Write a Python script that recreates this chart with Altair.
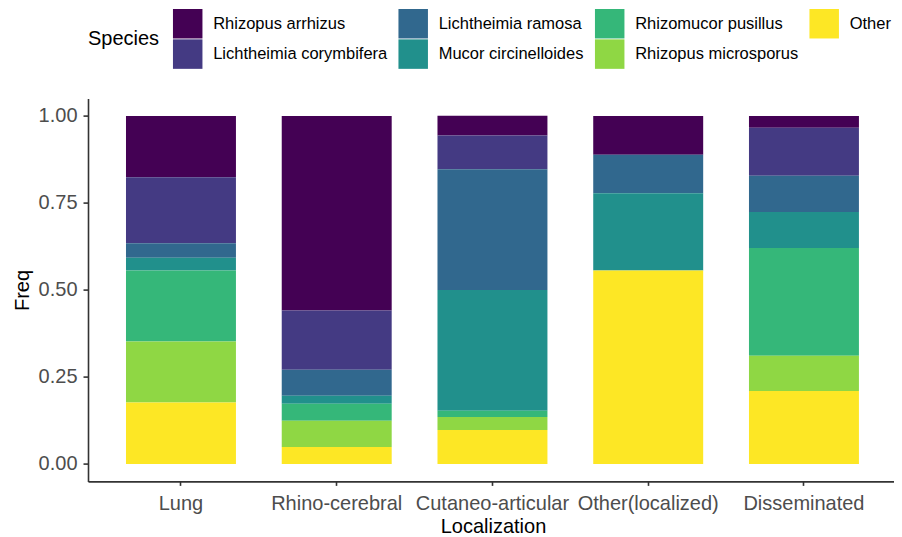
import altair as alt
import pandas as pd

localizations = ["Lung", "Rhino-cerebral", "Cutaneo-articular", "Other(localized)", "Disseminated"]

species = [
    "Rhizopus arrhizus",
    "Lichtheimia corymbifera",
    "Lichtheimia ramosa",
    "Mucor circinelloides",
    "Rhizomucor pusillus",
    "Rhizopus microsporus",
    "Other",
]

species_colors = ["#440154", "#443A83", "#31688E", "#21908C", "#35B779", "#8FD744", "#FDE725"]

# Frequencies per species, in the order of `localizations`
rhizopus_arrhizus = [0.176, 0.559, 0.057, 0.111, 0.034]
lichtheimia_corymbifera = [0.190, 0.170, 0.097, 0.000, 0.138]
lichtheimia_ramosa = [0.041, 0.075, 0.347, 0.111, 0.104]
mucor_circinelloides = [0.037, 0.023, 0.347, 0.222, 0.103]
rhizomucor_pusillus = [0.204, 0.049, 0.018, 0.000, 0.310]
rhizopus_microsporus = [0.175, 0.075, 0.037, 0.000, 0.101]
other = [0.177, 0.049, 0.098, 0.556, 0.210]

series = [
    rhizopus_arrhizus,
    lichtheimia_corymbifera,
    lichtheimia_ramosa,
    mucor_circinelloides,
    rhizomucor_pusillus,
    rhizopus_microsporus,
    other,
]

y_ticks = [0.0, 0.25, 0.5, 0.75, 1.0]

rows = []
n_sp = len(species)
for i, (sp, vals) in enumerate(zip(species, series)):
    for loc, v in zip(localizations, vals):
        if v > 0:
            rows.append({"Localization": loc, "Species": sp, "Freq": v, "rank": n_sp - 1 - i})
df = pd.DataFrame(rows)

# legend is filled row by row; reorder so that it reads column by column like the reference
legend_order = [species[0], species[2], species[4], species[6], species[1], species[3], species[5]]
legend_colors = [species_colors[species.index(s)] for s in legend_order]

FONT = "Liberation Sans"

chart = (
    alt.Chart(df)
    .mark_bar(strokeWidth=0)
    .encode(
        x=alt.X(
            "Localization:N",
            sort=localizations,
            scale=alt.Scale(paddingInner=0.294, paddingOuter=0.2345, align=0.52),
            axis=alt.Axis(
                title="Localization",
                labelAngle=0,
                labelFontSize=20,
                labelColor="#4D4D4D",
                labelBaseline="alphabetic",
                labelPadding=24,
                tickSize=4,
                titleFontSize=20,
                titleFontWeight="normal",
                titleColor="#000000",
                titleBaseline="alphabetic",
                titleX=405,
                titleY=51.6,
            ),
        ),
        y=alt.Y(
            "Freq:Q",
            stack="zero",
            scale=alt.Scale(domain=[-0.05, 1.05], nice=False, zero=False),
            axis=alt.Axis(
                title="Freq",
                values=y_ticks,
                format=".2f",
                labelFontSize=20,
                labelColor="#4D4D4D",
                labelPadding=6,
                tickSize=5,
                titleFontSize=20,
                titleFontWeight="normal",
                titleColor="#000000",
                titleX=-66,
                titleBaseline="middle",
                titleAlign="center",
                titleAngle=-90,
            ),
        ),
        color=alt.Color(
            "Species:N",
            scale=alt.Scale(domain=legend_order, range=legend_colors),
            legend=alt.Legend(
                title="Species",
                orient="none",
                legendX=0,
                legendY=-90,
                direction="horizontal",
                columns=4,
                titleOrient="left",
                titleAnchor="middle",
                titleBaseline="middle",
                titleFontSize=20,
                titleFontWeight="normal",
                titleColor="#000000",
                titlePadding=12.7,
                symbolType="square",
                symbolSize=870,
                symbolStrokeWidth=0,
                symbolOpacity=1,
                labelFontSize=16.5,
                labelColor="#000000",
                labelOffset=10.5,
                labelLimit=400,
                columnPadding=10.5,
                rowPadding=0.5,
                gridAlign="each",
            ),
        ),
        order=alt.Order("rank:Q", sort="ascending"),
    )
    .properties(
        width=806,
        height=382.8,
        autosize=alt.AutoSizeParams(type="none"),
        padding={"left": 80, "top": 90.6, "right": 0, "bottom": 56},
        background="white",
    )
    .configure(font=FONT)
    .configure_view(stroke=None)
    .configure_axis(
        labelFont=FONT,
        titleFont=FONT,
        domainColor="#333333",
        domainWidth=1.6,
        tickColor="#333333",
        tickWidth=1.6,
        grid=False,
    )
    .configure_legend(labelFont=FONT, titleFont=FONT)
)

chart.save("out.html", embed_options={"renderer": "svg", "actions": False})
